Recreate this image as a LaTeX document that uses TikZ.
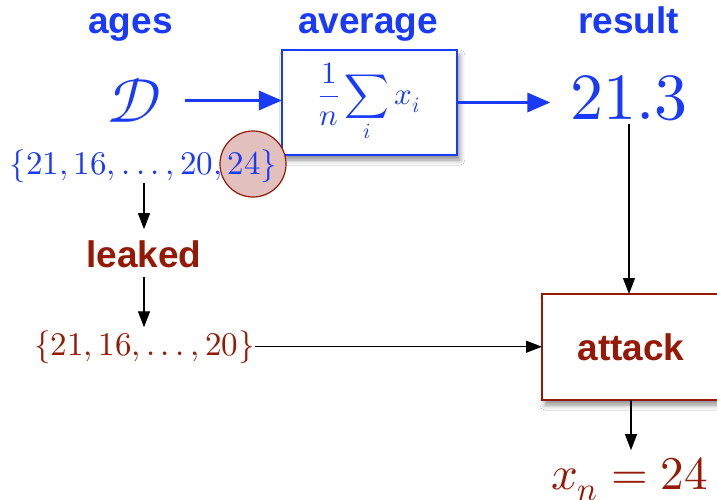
\documentclass[tikz,border=0pt]{standalone}
\usepackage{fontspec}
\usepackage{unicode-math}
\setmathfont{Latin Modern Math}
\newfontfamily\hv{Liberation Sans}
\usetikzlibrary{arrows.meta,shadows.blur}
\definecolor{kblue}{RGB}{26,58,250}
\definecolor{kred}{RGB}{150,25,5}
\definecolor{kpink}{RGB}{226,192,190}
\newcommand{\cmdots}{\mathinner{\mathpunct{.}\mathpunct{.}\mathpunct{.}}}
\begin{document}
\begin{tikzpicture}[x=1pt,y=-1pt,
  every node/.style={inner sep=0pt, outer sep=0pt},
  hdr/.style={font=\hv\bfseries\fontsize{37}{40}\selectfont, text=kblue, anchor=base},
  redlbl/.style={font=\hv\bfseries\fontsize{37}{40}\selectfont, text=kred},
  setfont/.style={font=\fontsize{33}{36}\selectfont, anchor=base},
  barrow/.style={draw=kblue, line width=3.5pt, -{Triangle[length=23pt,width=19pt]}},
  karrow/.style={draw=black, line width=1.1pt, -{Triangle[length=16pt,width=12pt]}},
  boxshadow/.style={blur shadow={shadow xshift=3pt, shadow yshift=-5pt, shadow blur radius=5pt, shadow opacity=45}},
  opbox/.style={draw=kblue, line width=1.5pt, fill=white, boxshadow},
  atbox/.style={draw=kred, line width=1.5pt, fill=white, boxshadow}
]
\useasboundingbox[fill=white] (0,0) rectangle (717,500);

% headers
\node[hdr] (ages) at (130.5,34) {ages};
\node[hdr] (average) at (368,34) {average};
\node[hdr] (result) at (628.5,34) {result};

% data set
\node[text=kblue, font=\fontsize{62}{66}\selectfont] (D) at (134,100.5) {$\mathcal{D}$};

% average box
\node[opbox, minimum width=175pt, minimum height=105pt, text=kblue,
      font=\fontsize{31}{34}\selectfont] (avg) at (369.4,102.5)
  {$\displaystyle\frac{1}{n}\sum_{i} x_i$};

% result
\node[text=kblue, font=\fontsize{66}{70}\selectfont, anchor=base] (res) at (629,120) {$21.3$};

% highlighted element
\node[circle, draw=kred, fill=kpink, line width=1.2pt, minimum size=66pt] (circ) at (253,164) {};

% full set
\node[text=kblue, setfont] (set) at (143.5,174)
  {$\{21,16,\cmdots,20,24\}$};

% leaked
\node[redlbl, anchor=base] (leaked) at (144,267) {leaked};
\node[text=kred, setfont] (lset) at (144.5,355)
  {$\{21,16,\cmdots,20\}$};

% attack box
\node[atbox, redlbl, minimum width=178pt, minimum height=106pt] (attack) at (631,347)
  {attack\hspace{6pt}};

% output
\node[text=kred, font=\fontsize{47}{50}\selectfont, anchor=base] (xn) at (629.5,489) {$x_n = 24$};

% connectors
\draw[barrow, shorten <=24pt] (D.east) -- (avg.west |- D.east);
\draw[barrow, shorten >=20pt] (avg.east) -- (res.west |- avg.east);
\draw[karrow, shorten <=3pt] (res.south) -- (attack.north -| res.south);
\draw[karrow, shorten <=1pt, shorten >=11pt] (set.south -| leaked.north) -- (leaked.north);
\draw[karrow, shorten <=10pt, shorten >=3pt] (leaked.south) -- (lset.north -| leaked.south);
\draw[karrow] (lset.east) -- (attack.west |- lset.east);
\draw[karrow, shorten >=7pt] (attack.south) -- (xn.north -| attack.south);
\end{tikzpicture}
\end{document}
